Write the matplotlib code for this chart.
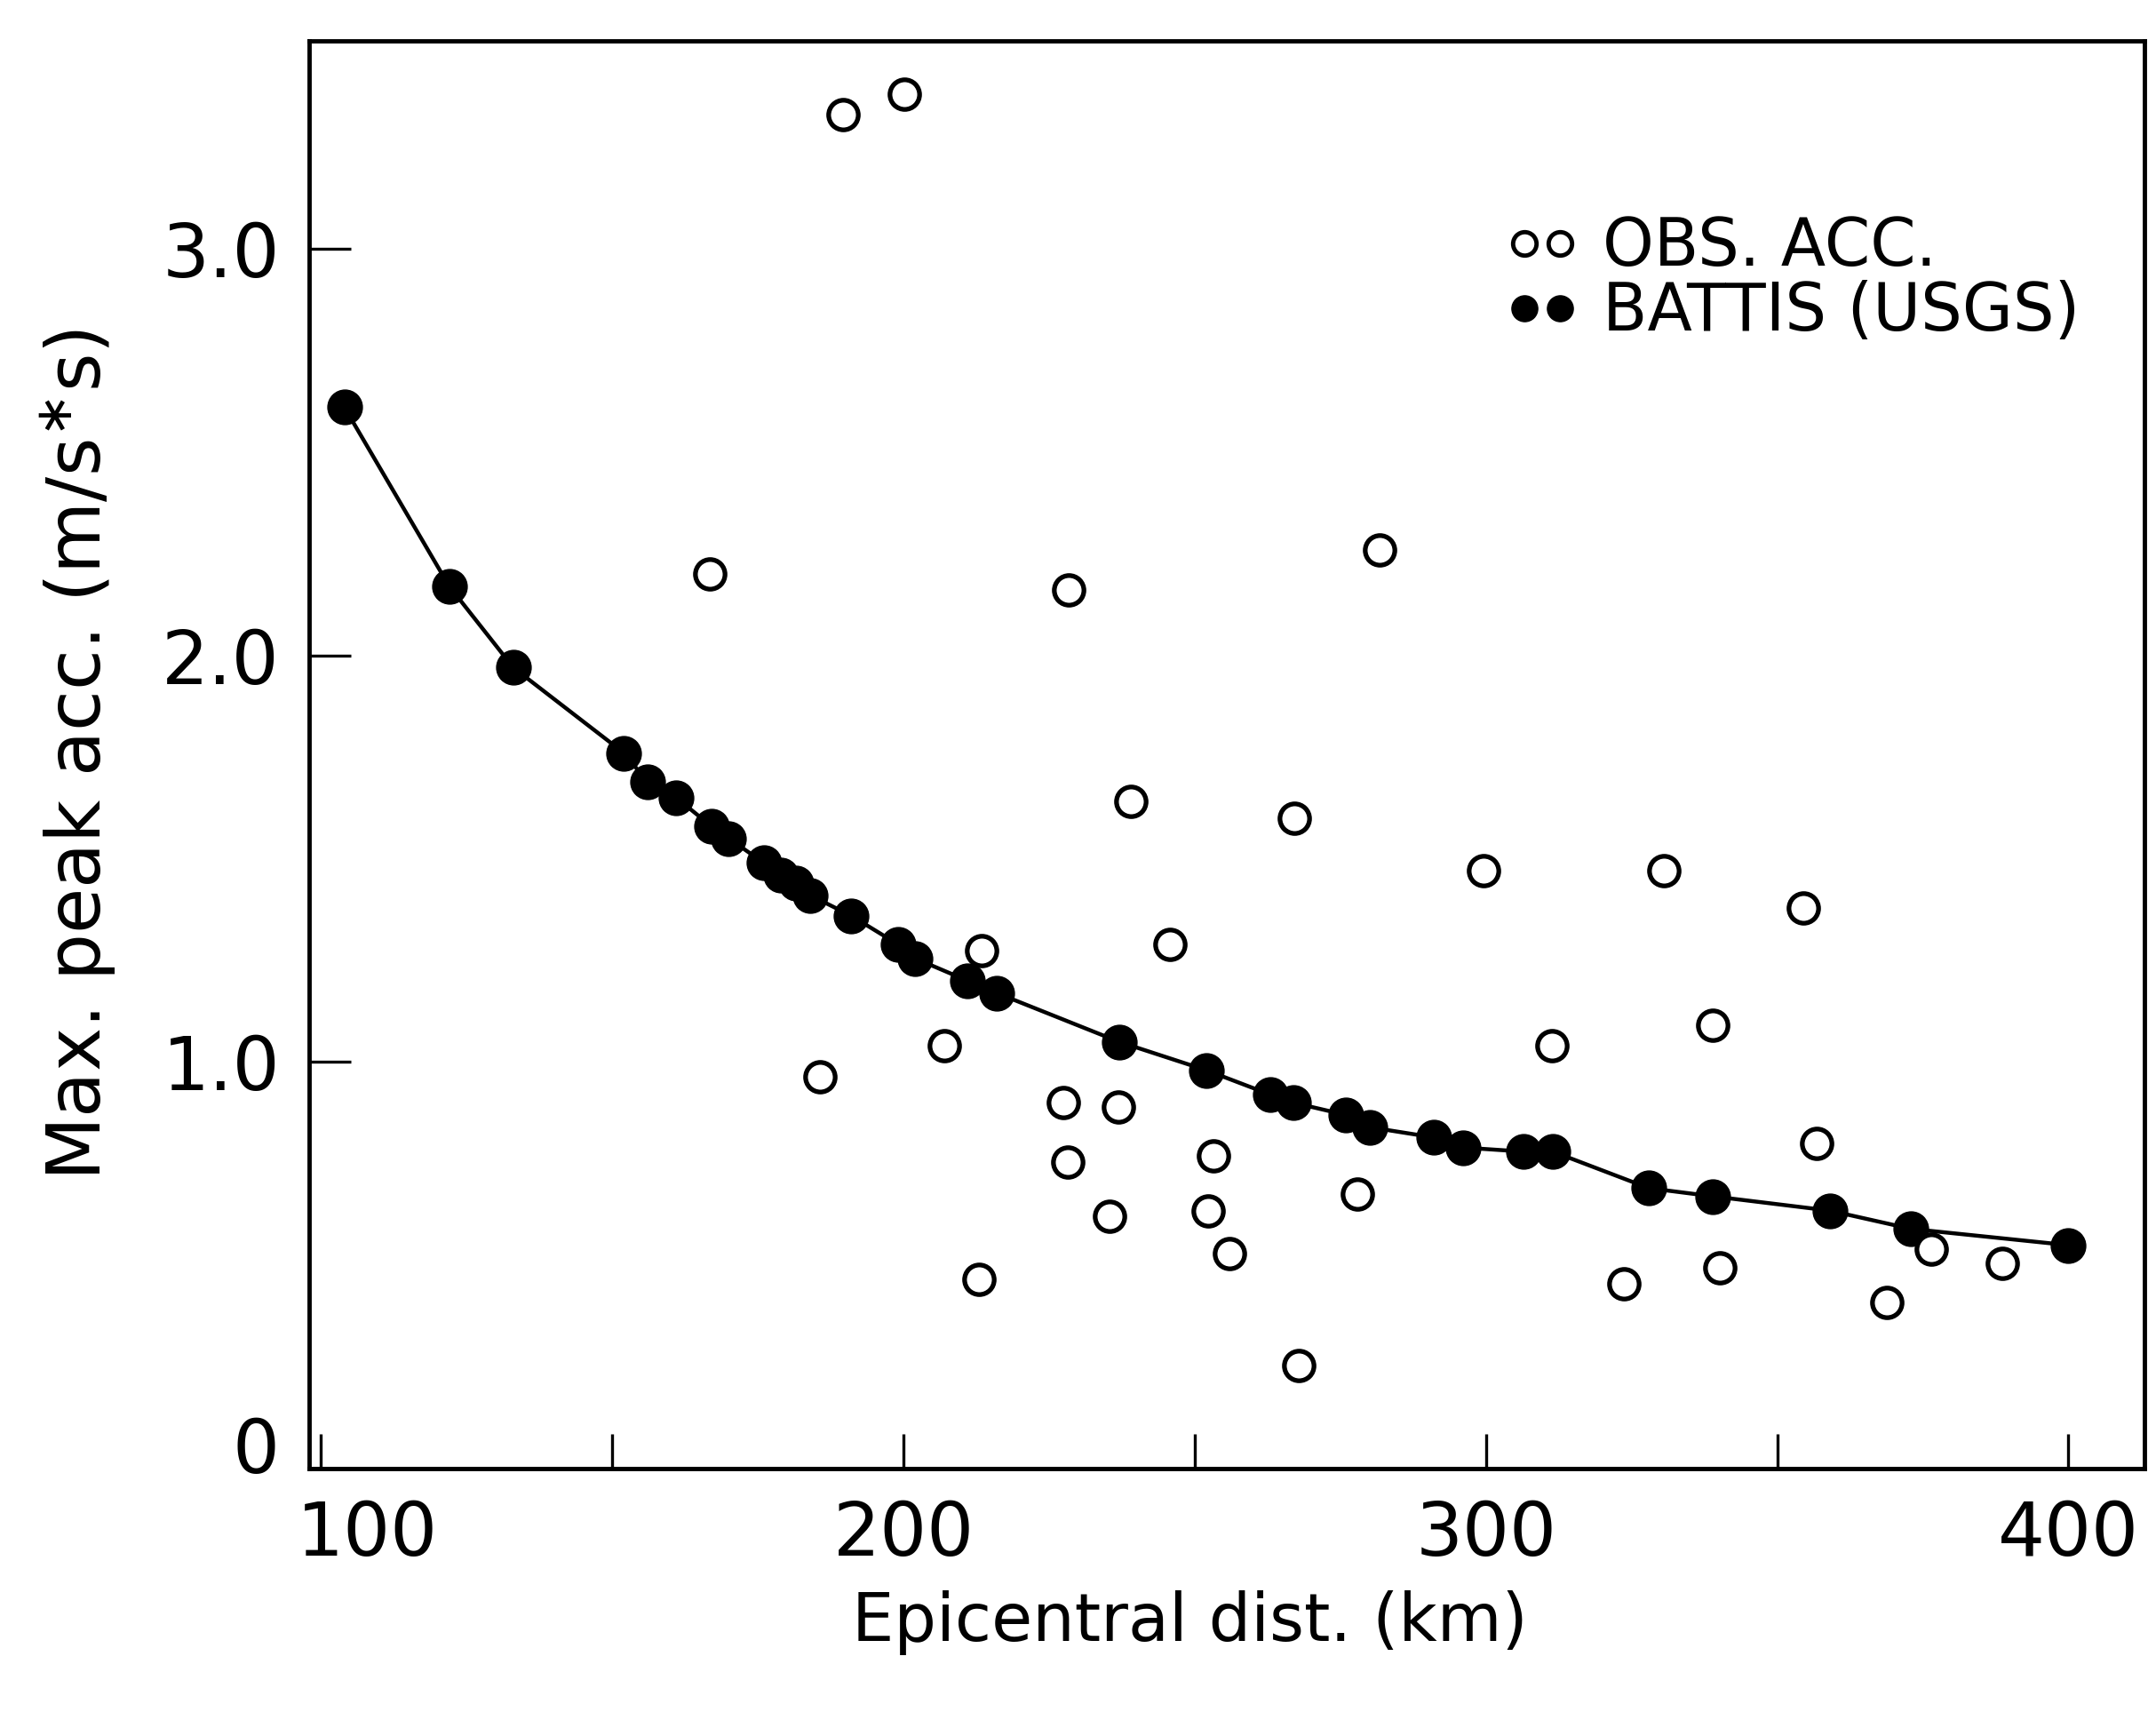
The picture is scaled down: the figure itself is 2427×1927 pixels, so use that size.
import matplotlib
matplotlib.use('Agg')
import matplotlib.pyplot as plt
import matplotlib.transforms as mtransforms
from matplotlib.lines import Line2D

# BATTIS (USGS) predicted peak acceleration
battis_dist = [104, 122, 133, 152, 156, 161, 167, 170, 176, 179, 181.5, 184, 191, 199, 202,
               211, 216, 237, 252, 263, 267, 276, 280, 291, 296, 306.5, 311.5, 328, 339,
               359, 373, 400]
battis_acc = [2.61, 2.17, 1.97, 1.76, 1.69, 1.65, 1.58, 1.55, 1.49, 1.46, 1.44, 1.41, 1.36,
              1.29, 1.255, 1.20, 1.17, 1.05, 0.98, 0.92, 0.90, 0.87, 0.84, 0.815, 0.79,
              0.78, 0.78, 0.69, 0.67, 0.635, 0.59, 0.55]

# observed accelerations
obs_dist = [189.6, 200.2, 166.7, 228.4, 281.7, 239.1, 267.1, 299.6, 330.5, 354.5, 245.7,
            213.4, 207.0, 185.6, 339.0, 311.4, 227.5, 236.9, 228.2, 253.2, 235.3, 252.3,
            256.0, 277.9, 212.9, 267.8, 323.7, 340.2, 356.7, 368.9, 376.5, 388.7]
obs_acc = [3.33, 3.38, 2.20, 2.16, 2.26, 1.64, 1.60, 1.47, 1.47, 1.38, 1.29,
           1.275, 1.04, 0.965, 1.09, 1.04, 0.90, 0.89, 0.755, 0.77, 0.62, 0.635,
           0.53, 0.675, 0.465, 0.255, 0.455, 0.495, 0.80, 0.41, 0.54, 0.505]

x_ticks = [100, 150, 200, 250, 300, 350, 400]
x_labels = ['100', '', '200', '', '300', '', '400']
y_ticks = [0, 1.0, 2.0, 3.0]
y_labels = ['0', '1.0', '2.0', '3.0']

plt.rcParams['font.family'] = ['DejaVu Sans']

fig = plt.figure(figsize=(24.27, 19.27), dpi=100)
ax = fig.add_axes([0.1435, 0.142, 0.851, 0.834])

ax.plot(battis_dist, battis_acc, color='black', lw=3.2, marker='o', ms=28,
        mfc='black', mec='black', zorder=3)
ax.plot(obs_dist, obs_acc, ls='none', marker='o', ms=24, mfc='white', mec='black',
        mew=3.8, zorder=4)

ax.set_xlim(98, 413)
ax.set_ylim(0, 3.51)
ax.set_xticks(x_ticks)
ax.set_xticklabels(x_labels)
ax.set_yticks(y_ticks)
ax.set_yticklabels(y_labels)
ax.tick_params(axis='both', direction='in', width=2.4, labelsize=60, pad=24)
ax.tick_params(axis='y', length=34)
ax.tick_params(axis='x', length=28)
for sp in ax.spines.values():
    sp.set_linewidth(3.5)

# the "100" label sits a bit right of the frame, the "0" a bit above it
lbl = ax.get_xticklabels()[0]
lbl.set_transform(lbl.get_transform() + mtransforms.ScaledTranslation(0.52, 0, fig.dpi_scale_trans))
lbl = ax.get_yticklabels()[0]
lbl.set_transform(lbl.get_transform() + mtransforms.ScaledTranslation(0, 0.27, fig.dpi_scale_trans))

ax.set_xlabel('Epicentral dist. (km)', fontsize=54)
ax.xaxis.set_label_coords(0.48, -0.085)
ax.set_ylabel(r'Max. peak acc. (m/s$^{\ast}$s)', fontsize=60)
ax.yaxis.set_label_coords(-0.104, 0.5)

handles = [Line2D([], [], ls='none', marker='o', ms=19, mfc='white', mec='black', mew=3.5),
           Line2D([], [], ls='none', marker='o', ms=21, mfc='black', mec='black')]
ax.legend(handles, ['OBS. ACC.', 'BATTIS (USGS)'], numpoints=2, frameon=False,
          fontsize=53, loc='upper right', bbox_to_anchor=(0.99, 0.91),
          handlelength=1.15, handletextpad=0.35, labelspacing=0.0, borderpad=0.2)

fig.savefig('out.png', dpi=100)
